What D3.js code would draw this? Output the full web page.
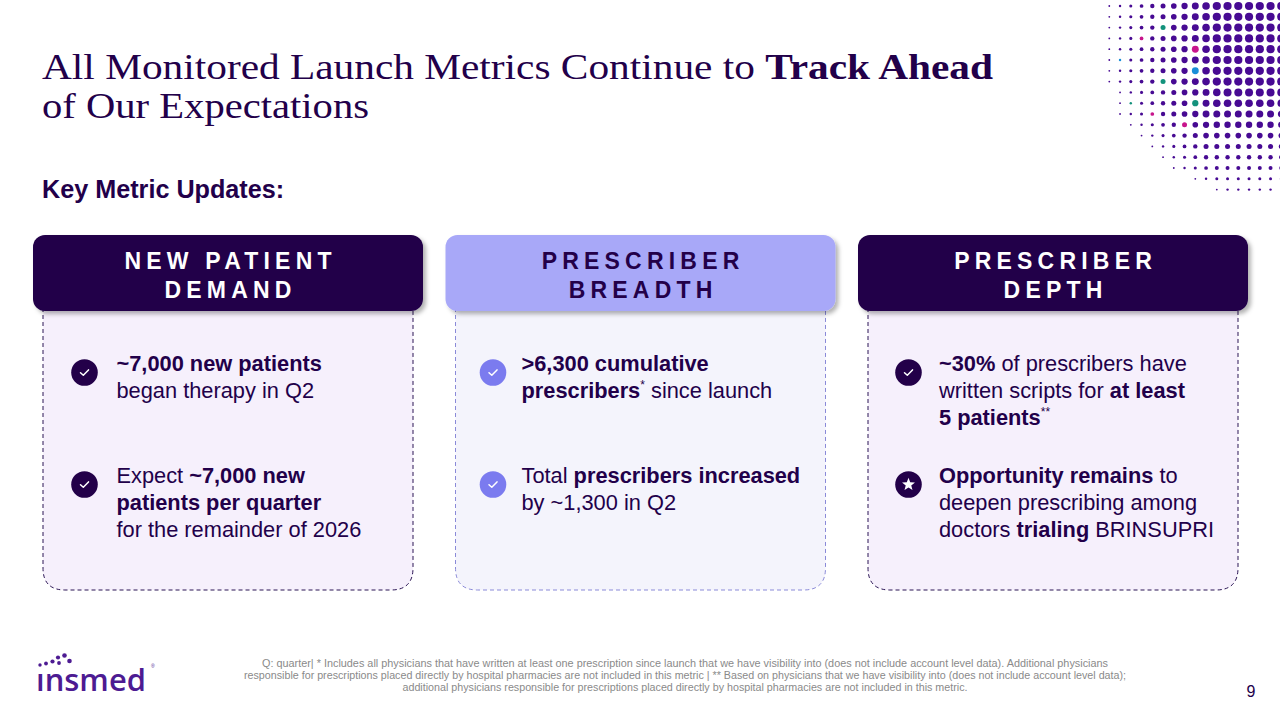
<!DOCTYPE html>
<html>
<head>
<meta charset="utf-8">
<script src="https://cdn.jsdelivr.net/npm/d3@7.9.0/dist/d3.min.js"></script>
<style>
  html, body { margin: 0; padding: 0; background: #fff; }
  svg { display: block; }
</style>
</head>
<body>
<svg id="slide" width="1280" height="720"></svg>
<script>
// ---- content ----
const titleLine1 = [["All Monitored Launch Metrics Continue to ", false], ["Track Ahead", true]];
const titleLine2 = [["of Our Expectations", false]];
const subtitle = "Key Metric Updates:";

const cardTitles = [["NEW PATIENT", "DEMAND"], ["PRESCRIBER", "BREADTH"], ["PRESCRIBER", "DEPTH"]];
const cardThemes = ["dark", "light", "dark"];
const cardIcons = [["check", "check"], ["check", "check"], ["check", "star"]];
// each item = lines, each line = [text, style] segments (b = bold, s = superscript)
const cardItems = [
  [
    [[["~7,000 new patients", "b"]], [["began therapy in Q2", ""]]],
    [[["Expect ", ""], ["~7,000 new", "b"]], [["patients per quarter", "b"]], [["for the remainder of 2026", ""]]]
  ],
  [
    [[[">6,300 cumulative", "b"]], [["prescribers", "b"], ["*", "s"], [" since launch", ""]]],
    [[["Total ", ""], ["prescribers increased", "b"]], [["by ~1,300 in Q2", ""]]]
  ],
  [
    [[["~30%", "b"], [" of prescribers have", ""]], [["written scripts for ", ""], ["at least", "b"]], [["5 patients", "b"], ["**", "s"]]],
    [[["Opportunity remains", "b"], [" to", ""]], [["deepen prescribing among", ""]], [["doctors ", ""], ["trialing", "b"], [" BRINSUPRI", ""]]]
  ]
];

const footnoteLines = [
  "Q: quarter| * Includes all physicians that have written at least one prescription since launch that we have visibility into (does not include account level data). Additional physicians",
  "responsible for prescriptions placed directly by hospital pharmacies are not included in this metric | ** Based on physicians that we have visibility into (does not include account level data);",
  "additional physicians responsible for prescriptions placed directly by hospital pharmacies are not included in this metric."
];
const footnoteWidths = [846, 882, 565];
const pageNumber = "9";

// decorative dot field, top right: first column per row, max radius per row
const dotRowStart = [0, 0, 0, 0, 0, 0, 0, 0, 1, 1, 1, 2, 3, 4, 5, 6, 8, 10];
const dotRowMax = [4.1, 4.1, 4.1, 4.1, 4.1, 4.1, 4.1, 4.1, 4, 3.8, 3.5, 3.2, 2.8, 2.5, 2.2, 2, 1.5, 1.2];
const accentDots = [[5, 2, "teal"], [3, 3, "magenta"], [8, 4, "magenta"], [1, 5, "blue"], [8, 6, "blue"],
  [5, 7, "teal"], [2, 9, "teal"], [8, 9, "teal"], [4, 10, "magenta"], [7, 11, "magenta"]];

// ---- styling ----
const ink = "#22004a";
const sans = "'Liberation Sans', Arial, sans-serif";
const serif = "'Liberation Serif', 'DejaVu Serif', serif";
const theme = {
  dark:  { head: "#230049", headText: "#ffffff", body: "#f6f0fc", dash: "#2a1454", icon: "#230049" },
  light: { head: "#a8a8f8", headText: "#230049", body: "#f4f4fc", dash: "#8a8ad8", icon: "#7b7bef" }
};
const accentColor = { teal: "#13927c", magenta: "#c8158c", blue: "#1a8ed8" };

const svg = d3.select("#slide");

const defs = svg.append("defs");
const shadow = defs.append("filter").attr("id", "shadow")
  .attr("x", "-5%").attr("y", "-10%").attr("width", "115%").attr("height", "130%");
shadow.append("feDropShadow").attr("dx", 3).attr("dy", 3).attr("stdDeviation", 2)
  .attr("flood-color", "#000").attr("flood-opacity", 0.3);

// ---- dot field ----
const dotX = d3.scaleLinear().domain([0, 1]).range([1109.3, 1120.05]);
const dotY = d3.scaleLinear().domain([0, 1]).range([6, 16.8]);
const dots = [];
dotRowStart.forEach((start, row) => {
  for (let col = start; col <= 16; col++) {
    const acc = accentDots.find(a => a[0] === col && a[1] === row);
    dots.push({ col, row, r: Math.min(dotRowMax[row], 0.9 + 0.32 * (col - start)), color: acc ? accentColor[acc[2]] : "#470a93" });
  }
});
svg.append("g").selectAll("circle").data(dots).join("circle")
  .attr("cx", d => dotX(d.col)).attr("cy", d => dotY(d.row))
  .attr("r", d => d.r).attr("fill", d => d.color);

// ---- title ----
function titleLine(segs, y, len) {
  const t = svg.append("text").attr("x", 42).attr("y", y)
    .attr("font-family", serif).attr("font-size", 36).attr("fill", ink)
    .attr("textLength", len).attr("lengthAdjust", "spacingAndGlyphs");
  segs.forEach(([txt, bold]) => t.append("tspan").attr("font-weight", bold ? 700 : 400).text(txt));
}
titleLine(titleLine1, 79, 951);
titleLine(titleLine2, 118, 327);

svg.append("text").attr("x", 42).attr("y", 198)
  .attr("font-family", sans).attr("font-weight", 700).attr("font-size", 25.2).attr("fill", ink)
  .text(subtitle);

// ---- cards ----
const cardX = d3.scaleBand().domain(d3.range(cardTitles.length)).range([33, 1248]).paddingInner(22.5 / 412.5);
const itemY = d3.scaleLinear().domain([0, 1]).range([371, 483]);
const headTop = 235, headBottom = 311, bodyBottom = 590, lineStep = 27;
const iconOffset = [51.5, 47.5, 50.5];
const textOffset = [83.5, 76, 81];

function checkPath(cx, cy) {
  return `M${cx - 4},${cy + 0.2} L${cx - 1.2},${cy + 2.8} L${cx + 4},${cy - 2.6}`;
}
function starPath(cx, cy, R, r) {
  const pts = d3.range(10).map(i => {
    const a = -Math.PI / 2 + i * Math.PI / 5, rr = i % 2 ? r : R;
    return [cx + rr * Math.cos(a), cy + rr * Math.sin(a)];
  });
  return "M" + pts.map(p => p.join(",")).join("L") + "Z";
}

cardTitles.forEach((title, i) => {
  const th = theme[cardThemes[i]];
  const x0 = cardX(i), w = cardX.bandwidth();
  const bx0 = x0 + 10, bx1 = x0 + w - 10, rr = 22;
  const g = svg.append("g");

  // body
  g.append("path")
    .attr("d", `M${bx0},${headBottom - 10} L${bx0},${bodyBottom - rr} Q${bx0},${bodyBottom} ${bx0 + rr},${bodyBottom}
      L${bx1 - rr},${bodyBottom} Q${bx1},${bodyBottom} ${bx1},${bodyBottom - rr} L${bx1},${headBottom - 10}`)
    .attr("fill", th.body).attr("stroke", th.dash).attr("stroke-width", 1).attr("stroke-dasharray", "4,3");

  // header
  g.append("rect").attr("x", x0).attr("y", headTop).attr("width", w).attr("height", headBottom - headTop)
    .attr("rx", 12).attr("fill", th.head).attr("filter", "url(#shadow)");
  title.forEach((ln, k) => {
    g.append("text").attr("x", x0 + w / 2 + 2.6).attr("y", 269 + k * 28.5)
      .attr("text-anchor", "middle").attr("font-family", sans).attr("font-weight", 700)
      .attr("font-size", 23).attr("letter-spacing", 5.2).attr("fill", th.headText).text(ln);
  });

  // items
  cardItems[i].forEach((item, j) => {
    const y = itemY(j);
    const cx = x0 + iconOffset[i], cy = y + 1.5;
    g.append("circle").attr("cx", cx).attr("cy", cy).attr("r", 13.3).attr("fill", th.icon);
    if (cardIcons[i][j] === "star") {
      g.append("path").attr("d", starPath(cx, cy, 6.8, 2.9)).attr("fill", "#fff");
    } else {
      g.append("path").attr("d", checkPath(cx, cy)).attr("fill", "none").attr("stroke", "#fff")
        .attr("stroke-width", 1.5).attr("stroke-linecap", "round").attr("stroke-linejoin", "round");
    }
    item.forEach((line, k) => {
      const t = g.append("text").attr("x", x0 + textOffset[i]).attr("y", y + k * lineStep)
        .attr("font-family", sans).attr("font-size", 21.8).attr("fill", ink);
      let raised = false;
      line.forEach(([txt, st]) => {
        const ts = t.append("tspan").text(txt);
        if (st === "b") ts.attr("font-weight", 700);
        if (st === "s") { ts.attr("font-size", 12).attr("dy", -9); raised = true; }
        else if (raised) { ts.attr("dy", 9); raised = false; }
      });
    });
  });
});

// ---- footnote ----
svg.append("g").selectAll("text").data(footnoteLines).join("text")
  .attr("x", (d, i) => 685 - footnoteWidths[i] / 2)
  .attr("y", (d, i) => 667 + i * 12)
  .attr("textLength", (d, i) => footnoteWidths[i]).attr("lengthAdjust", "spacingAndGlyphs")
  .attr("font-family", "'Liberation Sans Narrow', 'Liberation Sans', Arial, sans-serif")
  .attr("font-size", 10).attr("fill", "#8a8a8a")
  .text(d => d);

svg.append("text").attr("x", 1251).attr("y", 697).attr("text-anchor", "middle")
  .attr("font-family", sans).attr("font-size", 16).attr("fill", ink).text(pageNumber);

// ---- logo ----
const logo = svg.append("g");
logo.append("text").attr("x", 36).attr("y", 691)
  .attr("font-family", "'Open Sans', 'Noto Sans', sans-serif").attr("font-weight", 600)
  .attr("font-size", 31).attr("fill", "#4d1b92")
  .attr("textLength", 110).attr("lengthAdjust", "spacingAndGlyphs")
  .text("\u0131nsmed");
const logoDots = [[40, 665, 1.7], [46, 663.5, 1.9], [52.5, 661.5, 2.1], [59, 663, 1.9], [58, 657.5, 2.1], [64.5, 655.5, 2.3], [69.5, 661, 2.3]];
logo.selectAll("circle").data(logoDots).join("circle")
  .attr("cx", d => d[0]).attr("cy", d => d[1]).attr("r", d => d[2]).attr("fill", "#4d1b92");
logo.append("text").attr("x", 151).attr("y", 668).attr("font-family", sans)
  .attr("font-size", 5).attr("fill", "#4d1b92").text("®");
</script>
</body>
</html>
